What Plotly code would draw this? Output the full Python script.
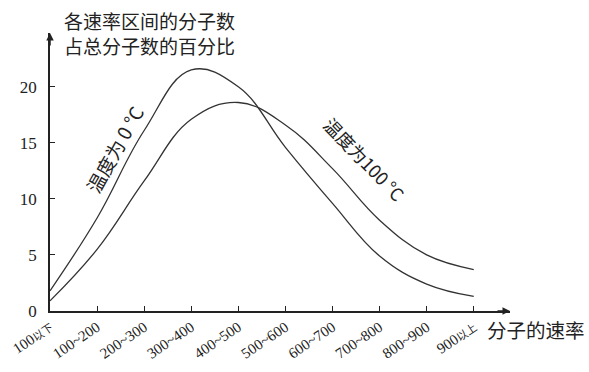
import plotly.graph_objects as go

# Data
categories = ["100以下", "100~200", "200~300", "300~400", "400~500",
              "500~600", "600~700", "700~800", "800~900", "900以上"]
temp_0C = [1.8, 8.3, 16.1, 21.5, 20.0, 14.6, 9.6, 4.9, 2.4, 1.3]
temp_100C = [0.9, 5.5, 11.6, 17.1, 18.6, 16.6, 12.7, 8.1, 5.0, 3.7]
y_ticks = [0, 5, 10, 15, 20]
title_lines = ["各速率区间的分子数", "占总分子数的百分比"]

positions = list(range(len(categories)))
tick_text = []
for c in categories:
    if c.endswith("以下") or c.endswith("以上"):
        tick_text.append(c[:-2] + "<span style='font-size:11px'>" + c[-2:] + "</span>")
    else:
        tick_text.append(c)

SERIF = "Liberation Serif, Noto Sans CJK SC"
CJK = "Noto Sans CJK SC, Liberation Serif"
INK = "#222"

fig = go.Figure()
for vals in (temp_0C, temp_100C):
    fig.add_trace(go.Scatter(
        x=positions, y=vals, mode="lines",
        line=dict(color="#333", width=1.3, shape="spline", smoothing=1.15),
        showlegend=False, hoverinfo="skip"))

fig.update_layout(
    width=589, height=372,
    margin=dict(l=50, r=79, t=33, b=61),
    paper_bgcolor="white", plot_bgcolor="white",
    font=dict(family=SERIF, color=INK),
)
fig.update_xaxes(
    range=[0, 9.77], tickmode="array", tickvals=positions, ticktext=tick_text,
    tickangle=-34, ticks="inside", ticklen=5, tickwidth=1.2, tickcolor=INK,
    showline=True, linecolor=INK, linewidth=1.5, showgrid=False, zeroline=False,
    tickfont=dict(family=SERIF, size=15, color=INK), automargin=False,
)
fig.update_yaxes(
    range=[0, 24.8], tickmode="array", tickvals=y_ticks,
    ticks="inside", ticklen=5, tickwidth=1.2, tickcolor=INK,
    showline=True, linecolor=INK, linewidth=1.5, showgrid=False, zeroline=False,
    tickfont=dict(family=SERIF, size=17, color=INK), ticklabelstandoff=8,
    automargin=False,
)

# axis arrows
fig.add_annotation(x=1, y=0, xref="paper", yref="paper", ax=-14, ay=0,
                   text="", showarrow=True, arrowhead=2, arrowsize=1,
                   arrowwidth=1.5, arrowcolor=INK)
fig.add_annotation(x=0, y=1, xref="paper", yref="paper", ax=0, ay=14,
                   text="", showarrow=True, arrowhead=2, arrowsize=1,
                   arrowwidth=1.5, arrowcolor=INK)

# texts
for line, ypaper in zip(title_lines, (1.045, 0.955)):
    fig.add_annotation(x=0.217, y=ypaper, xref="paper", yref="paper",
                       text=line, showarrow=False,
                       xanchor="center", yanchor="middle",
                       font=dict(family=CJK, size=19, color=INK))
fig.add_annotation(x=1.0565, y=-0.068, xref="paper", yref="paper",
                   text="分子的速率", showarrow=False,
                   xanchor="center", yanchor="middle",
                   font=dict(family=CJK, size=19.5, color=INK))
fig.add_annotation(x=1.36, y=14.4, text="温度为 0 °C", showarrow=False,
                   textangle=-61, xanchor="center", yanchor="middle",
                   font=dict(family=CJK, size=19, color=INK))
fig.add_annotation(x=6.69, y=13.6, text="温度为100 °C", showarrow=False,
                   textangle=46, xanchor="center", yanchor="middle",
                   font=dict(family=CJK, size=18, color=INK))

fig.write_html("out.html", config={"displayModeBar": False},
               post_script="document.body.style.margin='0';"
                           "document.body.style.overflow='hidden';")
